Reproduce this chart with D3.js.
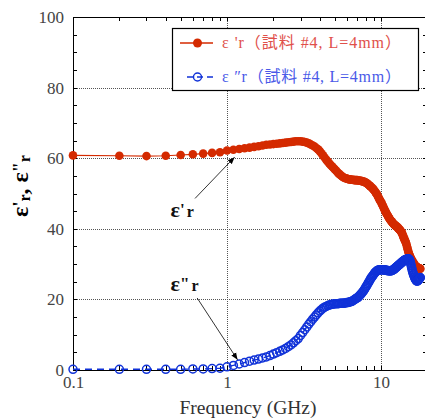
<!DOCTYPE html>
<html>
<head>
<meta charset="utf-8">
<script src="https://cdn.jsdelivr.net/npm/d3@7"></script>
<style>
  html, body { margin: 0; padding: 0; background: #fff; }
  svg { display: block; }
</style>
</head>
<body>
<svg id="chart" width="425" height="418"></svg>
<script>
// Frequency sweep: 0.1 GHz to 18 GHz in 0.1 GHz steps
const FREQ_START = 0.1;
const FREQ_STEP = 0.1;

// Real part of relative permittivity, ε'r
const epsReal = [
  60.8, 60.7, 60.6, 60.7, 60.9, 61.1, 61.3, 61.5, 61.7,
  62.2, 62.4, 62.6, 62.8, 63.0, 63.2, 63.4, 63.6, 63.8, 63.9,
  64.0, 64.1, 64.2, 64.3, 64.4, 64.5, 64.6, 64.7, 64.8, 64.8,
  64.8, 64.7, 64.6, 64.4, 64.2, 63.9, 63.6, 63.3, 62.9, 62.5,
  62.0, 61.4, 60.8, 60.2, 59.6, 59.1, 58.6, 58.1, 57.7, 57.3,
  56.9, 56.5, 56.1, 55.7, 55.4, 55.1, 54.8, 54.6, 54.4, 54.3,
  54.2, 54.1, 54.0, 54.0, 53.9, 53.9, 53.9, 53.8, 53.8, 53.8,
  53.8, 53.7, 53.7, 53.6, 53.6, 53.5, 53.4, 53.4, 53.3, 53.2,
  53.0, 52.9, 52.7, 52.5, 52.3, 52.1, 51.9, 51.7, 51.5, 51.2,
  51.0, 50.7, 50.4, 50.1, 49.8, 49.4, 49.0, 48.6, 48.2, 47.9,
  47.6, 47.2, 46.8, 46.4, 46.0, 45.6, 45.2, 44.9, 44.5, 44.2,
  43.9, 43.6, 43.3, 43.0, 42.8, 42.5, 42.3, 42.1, 41.9, 41.7,
  41.5, 41.3, 41.2, 41.0, 40.9, 40.8, 40.7, 40.5, 40.4, 40.2,
  40.1, 39.9, 39.8, 39.6, 39.4, 39.2, 39.0, 38.7, 38.4, 38.0,
  37.6, 37.3, 37.0, 36.7, 36.4, 36.1, 35.7, 35.2, 34.7, 34.2,
  33.7, 33.3, 32.9, 32.6, 32.3, 32.0, 31.7, 31.4, 31.2, 31.0,
  30.8, 30.6, 30.4, 30.2, 30.0, 29.8, 29.6, 29.5, 29.4, 29.3,
  29.2, 29.1, 29.0, 29.0, 28.9, 28.9, 28.8, 28.8, 28.8, 28.7,
  28.7
];

// Imaginary part of relative permittivity, ε"r
const epsImag = [
  0.2, 0.2, 0.2, 0.2, 0.2, 0.3, 0.3, 0.4, 0.5,
  0.9, 1.3, 1.7, 2.1, 2.5, 2.8, 3.1, 3.4, 3.7, 4.1,
  4.5, 4.9, 5.3, 5.7, 6.1, 6.6, 7.1, 7.7, 8.3, 8.9,
  9.8, 10.6, 11.4, 12.2, 13.0, 13.7, 14.4, 15.0, 15.6, 16.2,
  16.7, 17.1, 17.5, 17.8, 18.0, 18.2, 18.4, 18.5, 18.6, 18.7,
  18.7, 18.8, 18.8, 18.8, 18.9, 18.9, 18.9, 18.9, 19.0, 19.0,
  19.1, 19.1, 19.2, 19.3, 19.4, 19.5, 19.7, 19.9, 20.1, 20.3,
  20.4, 20.6, 20.9, 21.2, 21.5, 21.8, 22.1, 22.4, 22.8, 23.2,
  23.6, 24.0, 24.4, 24.8, 25.2, 25.6, 26.0, 26.3, 26.6, 26.9,
  27.2, 27.5, 27.7, 27.9, 28.1, 28.2, 28.3, 28.3, 28.4, 28.4,
  28.4, 28.4, 28.4, 28.4, 28.4, 28.3, 28.3, 28.3, 28.2, 28.2,
  28.2, 28.2, 28.1, 28.1, 28.1, 28.1, 28.1, 28.2, 28.2, 28.3,
  28.4, 28.5, 28.6, 28.8, 28.9, 29.0, 29.2, 29.3, 29.4, 29.6,
  29.7, 29.8, 29.9, 30.1, 30.2, 30.3, 30.4, 30.6, 30.7, 30.8,
  30.9, 31.0, 31.1, 31.2, 31.2, 31.3, 31.3, 31.4, 31.4, 31.5,
  31.5, 31.5, 31.4, 31.2, 30.9, 30.5, 30.0, 29.5, 29.0, 28.5,
  28.0, 27.6, 27.2, 26.9, 26.6, 26.3, 26.0, 25.8, 25.6, 25.4,
  25.3, 25.2, 25.2, 25.3, 25.4, 25.5, 25.7, 25.8, 26.0, 26.1,
  26.2
];

// Axis ticks
const yTicks = [0, 5, 10, 15, 20, 25, 30, 35, 40, 45, 50, 55, 60, 65, 70, 75, 80, 85, 90, 95, 100];
const yLabels = [0, 20, 40, 60, 80, 100];
const xTicks = [0.1, 0.2, 0.3, 0.4, 0.5, 0.6, 0.7, 0.8, 0.9,
                1, 2, 3, 4, 5, 6, 7, 8, 9,
                10, 20];
const xLabels = [0.1, 1, 10];
const yGrid = [20, 40, 60, 80];
const xGrid = [1, 10];

// Legend entries
const seriesNames = ["ε 'r（試料 #4, L=4mm）", "ε ″r（試料 #4, L=4mm）"];
const seriesColors = ["#d42a00", "#1032d8"];
const legendText = ["#e0504a", "#4a5ae8"];

// Callout labels with arrows, positioned in data units
const callouts = [
  { prime: "'", at: [0.43, 43.4], from: [0.62, 48.6], to: [1.12, 60.3] },
  { prime: "\"", at: [0.43, 22.5], from: [0.64, 20.4], to: [1.17, 2.9] }
];

const freqs = epsReal.map((_, i) => +(FREQ_START + i * FREQ_STEP).toFixed(1));
const realPts = freqs.map((f, i) => [f, epsReal[i]]);
const imagPts = freqs.map((f, i) => [f, epsImag[i]]);

const svg = d3.select("#chart");
const plotL = 73, plotR = 427.4, plotT = 17, plotB = 370;

const x = d3.scaleLog().domain([0.1, 20]).range([plotL, plotR]);
const y = d3.scaleLinear().domain([0, 100]).range([plotB, plotT]);

const serif = "'Liberation Serif', 'DejaVu Serif', serif";

// Dotted grid
const grid = svg.append("g").attr("stroke", "#555").attr("stroke-width", 1)
  .attr("stroke-dasharray", "1,1").attr("shape-rendering", "crispEdges");
grid.selectAll("line.h").data(yGrid).join("line").attr("class", "h")
  .attr("x1", plotL).attr("x2", plotR)
  .attr("y1", d => Math.round(y(d)) + 0.5).attr("y2", d => Math.round(y(d)) + 0.5);
grid.selectAll("line.v").data(xGrid).join("line").attr("class", "v")
  .attr("y1", plotT).attr("y2", plotB)
  .attr("x1", d => Math.round(x(d)) + 0.5).attr("x2", d => Math.round(x(d)) + 0.5);

// Axes with inward ticks on all four sides
function styleAxis(g) {
  g.attr("font-family", serif);
  g.selectAll("path, line").attr("stroke", "#000").attr("shape-rendering", "crispEdges");
  g.selectAll("text").attr("font-family", serif).attr("font-size", 17).attr("fill", "#444");
}
svg.append("g").attr("transform", `translate(${plotL},0)`)
  .call(d3.axisLeft(y).tickValues(yTicks).tickSize(-4).tickSizeOuter(0).tickPadding(9)
    .tickFormat(d => yLabels.includes(d) ? d : ""))
  .call(styleAxis);
svg.append("g").attr("transform", `translate(${plotR},0)`)
  .call(d3.axisRight(y).tickValues(yTicks).tickSize(-4).tickSizeOuter(0).tickFormat(""))
  .call(styleAxis);
svg.append("g").attr("transform", `translate(0,${plotB})`)
  .call(d3.axisBottom(x).tickValues(xTicks).tickSize(-4).tickSizeOuter(0).tickPadding(6)
    .tickFormat(d => xLabels.includes(d) ? d : ""))
  .call(styleAxis);
svg.append("g").attr("transform", `translate(0,${plotT})`)
  .call(d3.axisTop(x).tickValues(xTicks).tickSize(-4).tickSizeOuter(0).tickFormat(""))
  .call(styleAxis);

// Axis titles
svg.append("text")
  .attr("x", 248).attr("y", 414)
  .attr("text-anchor", "middle")
  .attr("font-family", serif).attr("font-size", 19.5).attr("fill", "#333")
  .text("Frequency (GHz)");

const yTitle = svg.append("text")
  .attr("transform", "translate(28,186) rotate(-90)")
  .attr("text-anchor", "middle")
  .attr("font-family", serif).attr("font-weight", "bold").attr("font-size", 24).attr("fill", "#000");
yTitle.append("tspan").text("ε");
yTitle.append("tspan").attr("font-size", 18).attr("dy", -2).text("'");
yTitle.append("tspan").attr("font-size", 16).attr("dy", 4).text("r");
yTitle.append("tspan").attr("dy", -2).text(", ε");
yTitle.append("tspan").attr("font-size", 18).attr("dy", -2).text("\"");
yTitle.append("tspan").attr("font-size", 16).attr("dy", 4).text("r");

// Series
const line = d3.line().x(d => x(d[0])).y(d => y(d[1]));

svg.append("path").datum(realPts)
  .attr("d", line).attr("fill", "none")
  .attr("stroke", seriesColors[0]).attr("stroke-width", 1.2);
svg.append("g").selectAll("circle").data(realPts).join("circle")
  .attr("cx", d => x(d[0])).attr("cy", d => y(d[1])).attr("r", 4.3)
  .attr("fill", seriesColors[0]);

svg.append("path").datum(imagPts)
  .attr("d", line).attr("fill", "none")
  .attr("stroke", seriesColors[1]).attr("stroke-width", 1.4)
  .attr("stroke-dasharray", "7,5");
svg.append("g").selectAll("circle").data(imagPts).join("circle")
  .attr("cx", d => x(d[0])).attr("cy", d => y(d[1])).attr("r", 4)
  .attr("fill", "none").attr("stroke", seriesColors[1]).attr("stroke-width", 1.5);

// Legend
const legend = svg.append("g");
legend.append("rect")
  .attr("x", 172.5).attr("y", 28.5).attr("width", 246).attr("height", 62)
  .attr("fill", "#fff").attr("stroke", "#000").attr("stroke-width", 1.2);
const legendRows = [43, 77];
seriesNames.forEach((name, i) => {
  const ly = legendRows[i];
  legend.append("line")
    .attr("x1", i === 0 ? 180 : 187).attr("x2", 213).attr("y1", ly).attr("y2", ly)
    .attr("stroke", seriesColors[i]).attr("stroke-width", 1.4)
    .attr("stroke-dasharray", i === 0 ? null : "6,4");
  legend.append("circle")
    .attr("cx", 197.5).attr("cy", ly).attr("r", i === 0 ? 4.5 : 4)
    .attr("fill", i === 0 ? seriesColors[0] : "none")
    .attr("stroke", seriesColors[i]).attr("stroke-width", i === 0 ? 0 : 1.4);
  legend.append("text")
    .attr("x", 222).attr("y", ly + 5)
    .attr("font-family", "'Liberation Serif', 'Noto Sans CJK JP', serif")
    .attr("font-size", 16).attr("fill", legendText[i])
    .attr("textLength", 179).attr("lengthAdjust", "spacing")
    .text(name);
});

// Callouts with arrows
svg.append("defs").append("marker")
  .attr("id", "arrowhead").attr("viewBox", "0 0 10 10")
  .attr("refX", 10).attr("refY", 5)
  .attr("markerWidth", 7).attr("markerHeight", 7)
  .attr("markerUnits", "userSpaceOnUse")
  .attr("orient", "auto")
  .append("path").attr("d", "M0,1 L10,5 L0,9 Z").attr("fill", "#000");

callouts.forEach(c => {
  svg.append("line")
    .attr("x1", x(c.from[0])).attr("y1", y(c.from[1]))
    .attr("x2", x(c.to[0])).attr("y2", y(c.to[1]))
    .attr("stroke", "#000").attr("stroke-width", 0.8)
    .attr("marker-end", "url(#arrowhead)");
  const t = svg.append("text")
    .attr("x", x(c.at[0])).attr("y", y(c.at[1]))
    .attr("font-family", serif).attr("font-weight", "bold").attr("fill", "#111");
  t.append("tspan").attr("font-size", 22).text("ε");
  t.append("tspan").attr("font-size", 17).attr("dy", -2).text(c.prime);
  t.append("tspan").attr("font-size", 16).attr("dx", 2).attr("dy", 2).text("r");
});
</script>
</body>
</html>
